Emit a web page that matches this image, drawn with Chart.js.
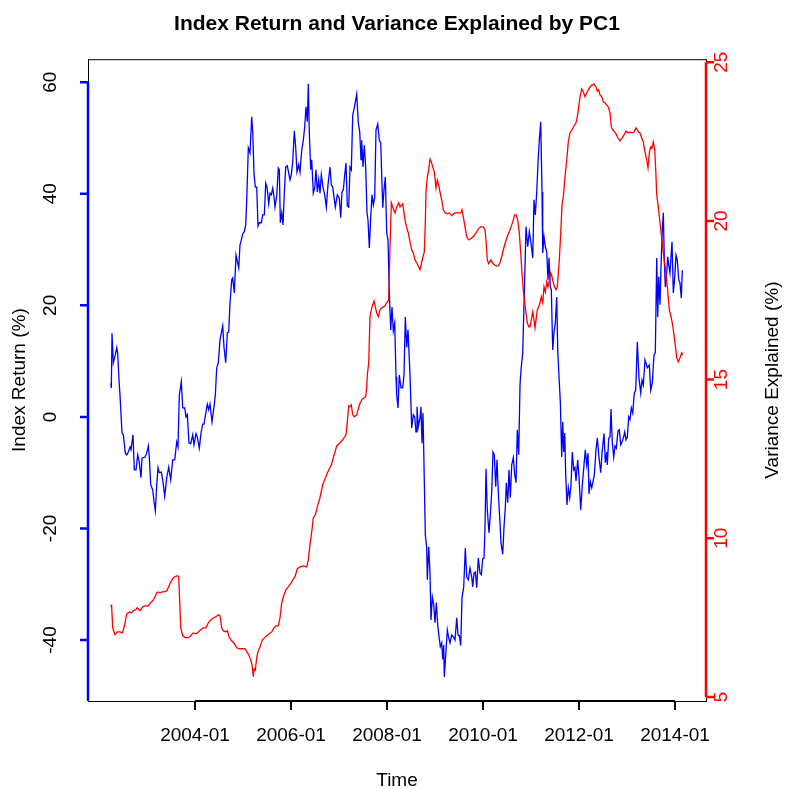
<!DOCTYPE html>
<html lang="en">
  <head>
    <meta charset="UTF-8" />
    <title>Index Return and Variance Explained by PC1</title>
    <style>
      html, body { margin: 0; padding: 0; background: #fff; }
    </style>
  </head>
  <body>
    <canvas id="myChart" width="785" height="789"></canvas>
    <script src="https://cdn.jsdelivr.net/npm/chart.js@4.4.1/dist/chart.umd.min.js"></script>
    <script>
      // time axis is in months counted from 2002-01
      const idxMonths = [
        2.95, 3.08, 3.25, 3.58, 4.08, 4.43, 4.68, 5.0, 5.25, 5.75, 6.08, 6.58, 6.93, 7.33, 7.75, 8.0, 8.5, 8.83, 9.25, 9.68,
        10.08, 10.5, 10.75, 11.5, 11.93, 12.33, 12.58, 12.93, 13.43, 13.75, 14.08, 14.43, 14.75, 15.08, 15.58, 15.93, 16.43, 16.93, 17.43, 17.93,
        18.43, 18.93, 19.43, 19.75, 20.08, 20.58, 20.93, 21.43, 21.75, 22.08, 22.5, 22.93, 23.43, 23.75, 24.25, 24.58, 25.08, 25.5, 25.93, 26.25,
        26.75, 27.08, 27.43, 27.75, 28.25, 28.75, 29.08, 29.43, 29.83, 30.25, 30.93, 31.25, 31.68, 32.08, 32.43, 32.75, 33.18, 33.43, 33.83, 34.25,
        34.93, 35.25, 35.58, 35.93, 36.33, 36.68, 36.93, 37.33, 37.75, 38.18, 38.43, 38.75, 39.08, 39.43, 39.75, 40.08, 40.58, 40.93, 41.33, 41.68,
        42.0, 42.43, 42.75, 43.08, 43.43, 43.75, 44.0, 44.43, 44.83, 45.08, 45.33, 45.68, 46.0, 46.33, 46.68, 47.08, 47.43, 47.75, 48.08, 48.43,
        48.83, 49.18, 49.5, 49.93, 50.25, 50.68, 51.08, 51.43, 51.75, 52.08, 52.33, 52.58, 52.93, 53.18, 53.58, 53.93, 54.25, 54.58, 54.93, 55.25,
        55.58, 56.0, 56.43, 56.83, 57.25, 57.75, 58.08, 58.43, 58.75, 59.08, 59.58, 60.08, 60.43, 60.75, 61.08, 61.43, 61.75, 62.08, 62.43, 62.75,
        63.08, 63.43, 63.83, 64.43, 64.83, 65.18, 65.5, 65.68, 66.0, 66.33, 66.68, 67.0, 67.25, 67.58, 67.93, 68.25, 68.58, 68.93, 69.25, 69.68,
        70.08, 70.43, 70.93, 71.25, 71.58, 71.93, 72.25, 72.58, 72.93, 73.25, 73.58, 73.93, 74.25, 74.43, 74.75, 75.08, 75.5, 75.93, 76.25, 76.58,
        76.93, 77.25, 77.75, 78.18, 78.58, 78.93, 79.25, 79.5, 79.83, 80.25, 80.5, 80.75, 81.0, 81.25, 81.58, 81.93, 82.08, 82.43, 82.75, 83.0,
        83.33, 83.68, 84.0, 84.33, 84.68, 85.0, 85.33, 85.68, 85.93, 86.18, 86.33, 86.68, 87.08, 87.43, 87.75, 88.18, 88.58, 89.0, 89.43, 89.75,
        90.08, 90.43, 90.75, 91.18, 91.58, 91.93, 92.33, 92.75, 93.18, 93.43, 93.75, 94.08, 94.43, 94.83, 95.25, 95.58, 95.93, 96.25, 96.5, 96.75,
        97.08, 97.5, 97.83, 98.18, 98.5, 98.83, 99.18, 99.5, 99.83, 100.18, 100.5, 100.93, 101.25, 101.58, 101.83, 102.18, 102.5, 102.83, 103.18, 103.58,
        103.93, 104.25, 104.58, 104.93, 105.25, 105.5, 105.93, 106.33, 106.75, 107.18, 107.58, 108.0, 108.43, 108.75, 109.08, 109.43, 109.75, 110.08, 110.43, 110.75,
        110.93, 111.25, 111.58, 111.93, 112.25, 112.5, 112.83, 113.08, 113.43, 113.75, 114.08, 114.43, 114.68, 115.0, 115.33, 115.68, 115.93, 116.18, 116.43, 116.68,
        117.0, 117.33, 117.68, 118.0, 118.33, 118.68, 119.0, 119.25, 119.68, 120.0, 120.43, 120.83, 121.25, 121.58, 121.93, 122.25, 122.5, 122.83, 123.18, 123.5,
        123.83, 124.25, 124.58, 125.0, 125.43, 125.75, 126.25, 126.58, 126.93, 127.08, 127.43, 127.75, 128.0, 128.33, 128.68, 129.0, 129.33, 129.75, 130.08, 130.43,
        130.75, 131.08, 131.43, 131.75, 132.08, 132.43, 132.75, 133.08, 133.43, 133.83, 134.18, 134.58, 135.0, 135.43, 135.75, 136.08, 136.5, 137.08, 137.58, 137.93,
        138.33, 138.75, 139.08, 139.43, 139.68, 139.93, 140.25, 140.5, 140.83, 141.08, 141.33, 141.58, 141.93, 142.18, 142.43, 142.75, 143.0, 143.25, 143.58, 143.93,
        144.25, 144.58, 144.93, 145.25, 145.58, 145.83
      ];
      const idxReturn = [
        6.0, 5.2, 15.0, 9.7, 11.1, 12.4, 11.4, 6.6, 3.9, -2.9, -3.2, -6.5, -6.8, -6.3, -5.4, -5.9, -3.2, -9.5, -9.5, -6.8,
        -8.2, -10.9, -7.4, -7.2, -6.5, -5.2, -7.2, -12.2, -13.1, -15.2, -16.8, -12.2, -9.1, -10.0, -9.9, -11.3, -14.2, -10.9, -9.0, -11.3,
        -7.7, -7.7, -4.5, -5.4, 3.9, 6.3, 1.6, 1.6, 0, 0.4, -4.7, -4.8, -3.2, -5.0, -3.0, -3.6, -5.6, -2.9, -1.3, -1.3,
        0.9, 2.3, 1.3, 2.3, -0.9, 1.8, 3.9, 8.8, 9.7, 13.8, 16.3, 12.5, 9.7, 15.1, 15.2, 20.4, 24.6, 24.9, 22.2, 29.0,
        26.7, 30.8, 31.7, 32.8, 33.2, 34.4, 38.9, 48.2, 47.3, 53.8, 51.1, 43.7, 41.2, 41.2, 34.2, 34.8, 34.8, 36.2, 36.2, 41.9,
        41.2, 38.2, 40.1, 39.8, 41.0, 39.4, 37.6, 39.6, 44.6, 44.3, 34.8, 36.6, 34.4, 40.1, 44.8, 45.0, 43.7, 42.5, 43.4, 45.7,
        51.3, 48.2, 43.9, 45.2, 43.9, 47.8, 49.6, 52.0, 55.6, 52.9, 59.7, 50.9, 44.3, 46.1, 40.1, 41.0, 44.3, 40.3, 42.5, 40.1,
        43.4, 41.2, 39.8, 37.6, 41.6, 44.8, 41.6, 41.2, 39.4, 37.6, 39.8, 39.2, 35.7, 40.3, 40.7, 43.4, 45.5, 37.8, 37.6, 44.8,
        44.3, 54.1, 55.4, 57.9, 52.7, 51.1, 46.1, 49.6, 44.8, 48.7, 44.6, 36.6, 35.3, 30.3, 35.8, 39.8, 38.0, 39.4, 51.4, 52.5,
        49.6, 49.1, 37.5, 40.7, 43.0, 33.0, 31.7, 22.2, 15.6, 19.7, 15.4, 16.8, 7.2, 3.9, 1.6, 7.5, 5.2, 5.2, 7.5, 17.9,
        12.5, 15.6, 7.5, -2.0, 0.4, 0, -2.7, 1.8, -1.8, -0.2, 1.8, -4.7, 0.7, -8.6, -21.1, -23.5, -29.2, -23.3, -28.0, -36.4,
        -32.3, -33.7, -36.9, -33.3, -37.3, -39.4, -41.2, -40.5, -43.5, -40.9, -46.6, -42.7, -38.2, -39.6, -40.5, -39.1, -39.4, -40.0, -36.0, -39.1,
        -39.2, -41.0, -32.4, -30.5, -23.5, -28.7, -29.2, -27.1, -28.7, -30.5, -28.0, -27.8, -30.6, -25.3, -28.0, -28.3, -25.4, -25.3, -19.9, -9.3,
        -16.7, -20.8, -17.6, -13.4, -6.3, -6.8, -12.5, -7.7, -13.6, -18.1, -22.6, -24.6, -19.7, -16.3, -11.8, -15.4, -9.5, -14.5, -8.6, -7.3,
        -10.4, -11.8, -2.3, -6.8, 5.7, 8.4, 11.5, 22.2, 34.1, 30.5, 33.2, 31.2, 28.5, 38.9, 36.2, 40.3, 45.5, 49.6, 52.9, 40.3,
        29.4, 32.3, 30.5, 29.6, 24.6, 28.5, 23.3, 22.8, 12.0, 15.2, 16.8, 21.5, 12.0, 7.3, 2.7, -7.2, -0.9, -6.3, -2.9, -10.4,
        -15.8, -12.7, -14.5, -12.2, -6.3, -9.5, -9.1, -11.5, -7.7, -10.8, -16.7, -12.2, -8.6, -5.9, -8.6, -6.5, -13.8, -11.6, -12.7, -11.6,
        -10.4, -5.9, -3.8, -7.3, -10.0, -6.5, -3.0, -8.2, -6.3, -8.6, -3.8, -3.6, 1.4, -4.7, -7.2, -5.2, -5.6, -2.5, -2.3, -5.0,
        -4.5, -3.8, -2.7, -4.1, -3.6, 0, -0.5, 1.6, 0.7, 4.3, 4.8, 13.4, 7.0, 4.3, 6.6, 5.7, 10.2, 8.8, 9.3, 4.8,
        6.1, 11.1, 11.5, 28.5, 17.9, 25.1, 20.1, 26.9, 33.5, 36.6, 28.1, 23.3, 25.8, 28.7, 27.2, 25.8, 28.7, 31.4, 22.2, 25.1,
        29.0, 28.1, 24.6, 24.0, 21.3, 26.3
      ];

      const varMonths = [
        3.0, 3.18, 3.43, 4.0, 4.58, 5.25, 5.83, 6.25, 6.93, 7.58, 8.18, 8.58, 9.18, 9.58, 10.25, 10.93, 11.58, 12.33, 12.93, 13.43,
        14.0, 14.43, 14.83, 15.25, 15.75, 16.25, 16.93, 17.43, 17.93, 18.58, 19.08, 19.58, 19.93, 20.08, 20.43, 20.93, 21.58, 22.33, 22.93, 23.58,
        24.25, 24.83, 25.43, 26.08, 26.75, 27.33, 27.93, 28.58, 29.25, 29.83, 30.25, 30.68, 31.08, 31.68, 32.08, 32.5, 32.93, 33.43, 34.0, 34.43,
        35.08, 35.93, 36.5, 36.93, 37.43, 37.93, 38.25, 38.5, 38.58, 38.83, 39.08, 39.43, 39.75, 40.25, 40.83, 41.43, 41.93, 42.58, 43.18, 43.75,
        44.18, 44.83, 45.25, 45.68, 46.25, 46.75, 47.33, 47.93, 48.43, 49.0, 49.58, 50.25, 51.08, 51.93, 52.33, 52.75, 53.18, 53.58, 54.08, 54.58,
        55.25, 55.93, 56.5, 57.08, 57.58, 58.08, 58.58, 59.0, 59.43, 60.25, 61.08, 61.75, 62.08, 62.43, 62.75, 63.08, 63.43, 63.83, 64.43, 65.08,
        65.68, 66.25, 66.68, 66.93, 67.08, 67.43, 67.75, 68.18, 68.75, 69.08, 69.43, 69.83, 70.25, 70.68, 71.08, 71.5, 71.93, 72.43, 72.75, 73.08,
        73.58, 74.0, 74.43, 74.93, 75.25, 75.68, 75.93, 76.25, 76.5, 76.93, 77.33, 77.75, 78.18, 78.58, 79.0, 79.43, 79.83, 80.25, 80.58, 81.0,
        81.33, 81.58, 81.75, 82.08, 82.43, 82.75, 83.08, 83.43, 83.83, 84.25, 84.58, 84.93, 85.25, 85.68, 86.08, 86.58, 87.08, 87.58, 88.18, 88.58,
        89.18, 89.83, 90.43, 90.75, 91.08, 91.5, 91.93, 92.43, 93.18, 93.75, 94.25, 94.83, 95.43, 96.08, 96.5, 96.75, 97.08, 97.43, 97.93, 98.58,
        99.25, 99.83, 100.25, 100.68, 101.08, 101.5, 101.93, 102.43, 102.93, 103.43, 103.93, 104.25, 104.68, 105.08, 105.43, 105.75, 106.08, 106.43, 106.75, 107.08,
        107.43, 107.75, 108.08, 108.43, 108.75, 109.0, 109.25, 109.58, 109.93, 110.25, 110.58, 110.93, 111.25, 111.58, 111.93, 112.25, 112.58, 112.93, 113.25, 113.58,
        113.93, 114.25, 114.58, 114.83, 115.08, 115.43, 115.75, 116.08, 116.5, 116.93, 117.33, 117.75, 118.25, 118.75, 119.25, 119.58, 119.93, 120.25, 120.68, 121.08,
        121.5, 121.93, 122.33, 122.75, 123.18, 123.75, 124.25, 124.58, 124.93, 125.25, 125.68, 126.08, 126.5, 126.93, 127.33, 127.75, 128.08, 128.43, 128.75, 129.25,
        129.75, 130.25, 130.75, 131.25, 131.75, 132.25, 132.75, 133.25, 133.75, 134.25, 134.58, 134.93, 135.25, 135.68, 136.08, 136.5, 136.93, 137.25, 137.58, 137.93,
        138.25, 138.58, 138.93, 139.18, 139.43, 139.83, 140.25, 140.68, 141.08, 141.58, 142.08, 142.58, 143.18, 143.58, 144.0, 144.43, 144.83, 145.25, 145.68, 145.93
      ];
      const varExplained = [
        7.91, 7.80, 7.18, 6.96, 7.05, 7.05, 7.02, 7.18, 7.62, 7.68, 7.65, 7.72, 7.75, 7.81, 7.72, 7.84, 7.87, 7.87, 7.97, 8.03,
        8.16, 8.28, 8.31, 8.28, 8.31, 8.31, 8.35, 8.47, 8.63, 8.76, 8.79, 8.82, 8.79, 8.31, 7.18, 6.93, 6.87, 6.87, 6.93, 7.02,
        6.99, 7.05, 7.12, 7.18, 7.18, 7.34, 7.43, 7.49, 7.53, 7.59, 7.56, 7.18, 7.09, 7.05, 7.09, 6.90, 6.80, 6.74, 6.65, 6.55,
        6.52, 6.52, 6.52, 6.43, 6.33, 6.17, 6.02, 5.76, 5.64, 5.89, 5.86, 6.24, 6.43, 6.58, 6.80, 6.87, 6.93, 6.99, 7.05, 7.18,
        7.24, 7.24, 7.49, 7.97, 8.22, 8.38, 8.47, 8.57, 8.69, 8.79, 9.04, 9.10, 9.13, 9.10, 9.32, 9.80, 10.20, 10.65, 10.74, 10.99,
        11.28, 11.69, 11.87, 12.06, 12.19, 12.31, 12.54, 12.72, 12.91, 13.01, 13.13, 13.26, 13.67, 14.17, 14.14, 14.20, 13.89, 13.83, 13.89, 14.20,
        14.36, 14.43, 14.46, 14.77, 15.15, 15.53, 16.98, 17.26, 17.48, 17.29, 17.10, 16.98, 17.20, 17.26, 17.29, 17.32, 17.42, 17.51, 19.18, 20.57,
        20.38, 20.25, 20.44, 20.57, 20.44, 20.50, 20.54, 20.25, 20.03, 19.78, 19.62, 19.34, 19.09, 18.99, 18.77, 18.68, 18.58, 18.46, 18.65, 18.87,
        19.02, 19.94, 20.91, 21.39, 21.61, 21.95, 21.86, 21.70, 21.54, 21.04, 21.29, 21.13, 20.91, 20.66, 20.35, 20.25, 20.22, 20.25, 20.16, 20.22,
        20.25, 20.25, 20.25, 20.35, 20.13, 19.81, 19.50, 19.40, 19.46, 19.53, 19.62, 19.75, 19.81, 19.81, 19.72, 19.40, 18.77, 18.65, 18.77, 18.65,
        18.58, 18.58, 18.68, 18.87, 19.09, 19.28, 19.46, 19.62, 19.78, 19.97, 20.19, 20.19, 20.03, 19.62, 18.99, 18.36, 17.83, 17.42, 17.10, 16.79,
        16.66, 16.66, 16.88, 17.13, 16.88, 16.63, 16.88, 17.20, 17.29, 17.42, 17.61, 17.42, 17.92, 17.76, 18.08, 17.92, 18.11, 18.36, 18.24, 18.05,
        17.92, 17.83, 17.92, 18.36, 18.77, 19.62, 20.50, 20.76, 21.39, 21.92, 22.49, 22.77, 22.87, 22.99, 23.09, 23.28, 23.59, 23.91, 24.16, 24.06,
        23.91, 24.03, 24.13, 24.22, 24.28, 24.31, 24.22, 24.09, 24.13, 23.97, 23.91, 23.75, 23.72, 23.65, 23.59, 23.40, 22.96, 22.87, 22.83, 22.74,
        22.61, 22.52, 22.61, 22.71, 22.83, 22.77, 22.80, 22.77, 22.80, 22.93, 22.87, 22.80, 22.77, 22.61, 22.49, 22.17, 21.92, 21.67, 22.14, 22.33,
        22.30, 22.49, 22.24, 21.61, 20.82, 20.44, 19.94, 19.46, 18.99, 18.52, 17.92, 17.20, 16.88, 16.57, 16.16, 15.69, 15.56, 15.69, 15.84, 15.78
      ];

      const tickMonths = [24, 48, 72, 96, 120, 144];
      const tickLabels = ["2004-01", "2006-01", "2008-01", "2010-01", "2012-01", "2014-01"];
      const returnTicks = [-40, -20, 0, 20, 40, 60];
      const varianceTicks = [5, 10, 15, 20, 25];

      const FONT = '"Liberation Sans", Arial, Helvetica, sans-serif';

      function vText(ctx, txt, cx, cy) {
        ctx.save();
        ctx.translate(cx, cy);
        ctx.rotate(-Math.PI / 2);
        ctx.fillText(txt, 0, 0);
        ctx.restore();
      }

      // R style axes: box, bottom axis, blue left axis, red right axis
      const rAxes = {
        id: "rAxes",
        afterDraw(chart) {
          const { ctx, chartArea: a, scales } = chart;
          const x = scales.x, yl = scales.y, yr = scales.y2;
          ctx.save();
          ctx.textAlign = "center";
          ctx.textBaseline = "middle";
          ctx.font = "19px " + FONT;

          ctx.strokeStyle = "#000";
          ctx.lineWidth = 1;
          ctx.strokeRect(a.left + 0.5, a.top + 0.5, a.right - a.left, a.bottom - a.top);

          // bottom
          ctx.lineWidth = 2;
          ctx.beginPath();
          ctx.moveTo(x.getPixelForValue(tickMonths[0]), a.bottom);
          ctx.lineTo(x.getPixelForValue(tickMonths[tickMonths.length - 1]), a.bottom);
          tickMonths.forEach((m) => {
            const px = x.getPixelForValue(m);
            ctx.moveTo(px, a.bottom);
            ctx.lineTo(px, a.bottom + 9);
          });
          ctx.stroke();
          ctx.fillStyle = "#000";
          tickMonths.forEach((m, i) => ctx.fillText(tickLabels[i], x.getPixelForValue(m), a.bottom + 35));
          ctx.fillText("Time", (a.left + a.right) / 2, a.bottom + 80);

          // left
          ctx.strokeStyle = "#0000ff";
          ctx.lineWidth = 2.5;
          ctx.beginPath();
          ctx.moveTo(a.left, yl.getPixelForValue(60));
          ctx.lineTo(a.left, a.bottom);
          returnTicks.forEach((v) => {
            const py = yl.getPixelForValue(v);
            ctx.moveTo(a.left, py);
            ctx.lineTo(a.left - 8, py);
          });
          ctx.stroke();
          returnTicks.forEach((v) => vText(ctx, String(v), a.left - 37, yl.getPixelForValue(v)));
          vText(ctx, "Index Return (%)", 20, (a.top + a.bottom) / 2);

          // right
          ctx.strokeStyle = "#ff0000";
          ctx.beginPath();
          ctx.moveTo(a.right, yr.getPixelForValue(25));
          ctx.lineTo(a.right, yr.getPixelForValue(5));
          varianceTicks.forEach((v) => {
            const py = yr.getPixelForValue(v);
            ctx.moveTo(a.right, py);
            ctx.lineTo(a.right + 8, py);
          });
          ctx.stroke();
          ctx.fillStyle = "#ff0000";
          varianceTicks.forEach((v) => vText(ctx, String(v), a.right + 16, yr.getPixelForValue(v)));
          ctx.fillStyle = "#000";
          vText(ctx, "Variance Explained (%)", a.right + 67, (a.top + a.bottom) / 2);
          ctx.restore();
        },
      };

      const ctx = document.getElementById("myChart");
      const myChart = new Chart(ctx, {
        type: "line",
        data: {
          datasets: [
            {
              label: "Index Return",
              data: idxMonths.map((m, i) => ({ x: m, y: idxReturn[i] })),
              yAxisID: "y",
              borderColor: "#0000ff",
              borderWidth: 1.3,
              pointRadius: 0,
              tension: 0,
              order: 2,
            },
            {
              label: "Variance Explained",
              data: varMonths.map((m, i) => ({ x: m, y: varExplained[i] })),
              yAxisID: "y2",
              borderColor: "#ff0000",
              borderWidth: 1.3,
              pointRadius: 0,
              tension: 0,
              order: 1,
            },
          ],
        },
        options: {
          responsive: false,
          animation: false,
          plugins: {
            legend: { display: false },
            tooltip: { enabled: false },
            title: {
              display: true,
              text: "Index Return and Variance Explained by PC1",
              fullSize: false,
              color: "#000",
              font: { family: FONT, size: 21, weight: "bold" },
              padding: { top: 12, bottom: 22 },
            },
          },
          scales: {
            x: {
              type: "linear",
              min: -2.75,
              max: 151.75,
              ticks: { display: false },
              grid: { display: false },
              border: { display: false },
              afterFit: (s) => { s.height = 88; },
            },
            y: {
              position: "left",
              min: -50.93,
              max: 64.12,
              ticks: { display: false },
              grid: { display: false },
              border: { display: false },
              afterFit: (s) => { s.width = 88; },
            },
            y2: {
              position: "right",
              min: 4.874,
              max: 25.094,
              ticks: { display: false },
              grid: { display: false },
              border: { display: false },
              afterFit: (s) => { s.width = 79; },
            },
          },
        },
        plugins: [rAxes],
      });
    </script>
  </body>
</html>
